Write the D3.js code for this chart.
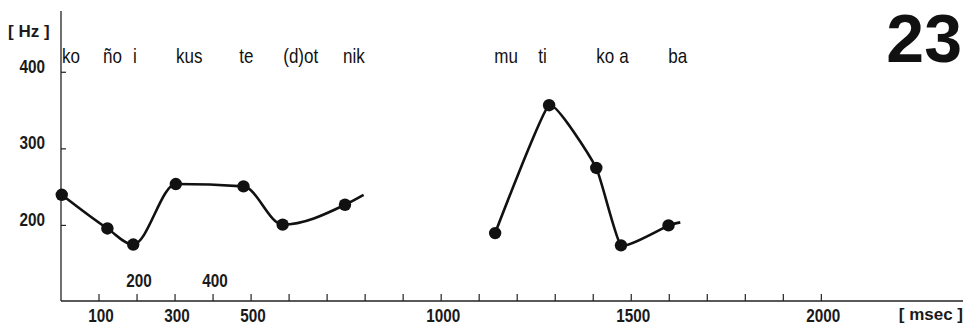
<!DOCTYPE html>
<meta charset="utf-8">
<head>
<script src="https://d3js.org/d3.v7.min.js"></script>
<style>
body { margin: 0; background: #fff; }
text { font-family: "Liberation Sans", Arial, sans-serif; fill: #1a1a1a; }
</style>
</head>
<body>
<div id="chart"></div>
<script>
// pitch contour, first phrase (ms, Hz)
var phrase1Ms = [2, 122, 190, 302, 480, 583, 747, 796];
var phrase1Hz = [240, 196, 175, 254, 251, 201, 227, 240];
var phrase1Dots = 7; // last point is only the line end

// second phrase
var phrase2Ms = [1142, 1284, 1408, 1473, 1598, 1629];
var phrase2Hz = [190, 357, 275, 174, 200, 204];
var phrase2Dots = 5;

// syllables written above the contour
var syllables = ["ko", "ño", "i", "kus", "te", "(d)ot", "nik", "mu", "ti", "ko", "a", "ba"];
var syllableMs = [0, 108, 187, 300, 466, 582, 739, 1137, 1253, 1405, 1466, 1595];

var yTicks = [200, 300, 400];
var xTicksBelow = [100, 300, 500, 1000, 1500, 2000];
var xTicksAbove = [200, 400];

var width = 967, height = 329;
var squeeze = 0.85; // narrow the type like the condensed face of the original

var svg = d3.select("#chart").append("svg")
    .attr("width", width)
    .attr("height", height);

var x = d3.scaleLinear().domain([0, 2370]).range([61, 962]);
var y = d3.scaleLinear().domain([100, 480]).range([302, 11]);

var x0 = x(0), yBase = 301;

// condensed text helper
function narrowText(sel, px, py) {
  return sel.attr("transform", function(d, i) {
    return "translate(" + px(d, i) + "," + py(d, i) + ") scale(" + squeeze + ",1)";
  });
}

// axes, drawn by hand (ticks point inward)
svg.append("line")
    .attr("x1", x0).attr("x2", x0)
    .attr("y1", 11).attr("y2", yBase)
    .attr("stroke", "#222").attr("stroke-width", 1.3);
svg.append("line")
    .attr("x1", x0).attr("x2", 963)
    .attr("y1", yBase).attr("y2", yBase)
    .attr("stroke", "#222").attr("stroke-width", 1.3);

svg.selectAll(".ytick")
    .data(yTicks)
    .enter().append("line")
    .attr("x1", x0).attr("x2", x0 + 5)
    .attr("y1", function(d) { return y(d); })
    .attr("y2", function(d) { return y(d); })
    .attr("stroke", "#222").attr("stroke-width", 1.2);

narrowText(svg.selectAll(".ylab")
    .data(yTicks)
    .enter().append("text")
    .attr("text-anchor", "end")
    .style("font-size", "18px")
    .style("font-weight", "bold")
    .text(function(d) { return d; }),
  function() { return 45; }, function(d) { return y(d) + 0.5; });

svg.selectAll(".xtick")
    .data(d3.range(100, 2001, 100))
    .enter().append("line")
    .attr("x1", function(d) { return x(d); })
    .attr("x2", function(d) { return x(d); })
    .attr("y1", yBase).attr("y2", yBase - 7)
    .attr("stroke", "#222").attr("stroke-width", 1.2);

narrowText(svg.selectAll(".xlab")
    .data(xTicksBelow)
    .enter().append("text")
    .attr("text-anchor", "middle")
    .style("font-size", "18px")
    .style("font-weight", "bold")
    .text(function(d) { return d; }),
  function(d) { return x(d) + 2; }, function() { return 322; });

narrowText(svg.selectAll(".xlab2")
    .data(xTicksAbove)
    .enter().append("text")
    .attr("text-anchor", "middle")
    .style("font-size", "18px")
    .style("font-weight", "bold")
    .text(function(d) { return d; }),
  function(d) { return x(d) + 2; }, function() { return 287; });

// unit labels
svg.append("text")
    .attr("x", 8).attr("y", 37)
    .style("font-size", "17px")
    .style("font-weight", "bold")
    .text("[ Hz ]");

svg.append("text")
    .attr("x", 963).attr("y", 320)
    .attr("text-anchor", "end")
    .style("font-size", "17px")
    .style("font-weight", "bold")
    .text("[ msec ]");

// figure number
svg.append("text")
    .attr("x", 962).attr("y", 62)
    .attr("text-anchor", "end")
    .style("font-size", "68px")
    .style("font-weight", "bold")
    .style("fill", "#111")
    .text("23");

// syllables
narrowText(svg.selectAll(".syl")
    .data(syllables)
    .enter().append("text")
    .style("font-size", "20px")
    .style("fill", "#111")
    .text(function(d) { return d; }),
  function(d, i) { return x(syllableMs[i]) + 1; }, function() { return 63; });

// contours
function contour(ms, hz, dots, curve) {
  var pts = ms.map(function(t, i) { return [t, hz[i]]; });
  var line = d3.line()
      .curve(curve)
      .x(function(d) { return x(d[0]); })
      .y(function(d) { return y(d[1]); });
  svg.append("path")
      .datum(pts)
      .attr("d", line)
      .attr("fill", "none")
      .attr("stroke", "#111")
      .attr("stroke-width", 2.6);
  svg.selectAll(null)
      .data(pts.slice(0, dots))
      .enter().append("circle")
      .attr("cx", function(d) { return x(d[0]); })
      .attr("cy", function(d) { return y(d[1]); })
      .attr("r", 6.2)
      .attr("fill", "#111");
}

contour(phrase1Ms, phrase1Hz, phrase1Dots, d3.curveMonotoneX);
contour(phrase2Ms, phrase2Hz, phrase2Dots, d3.curveCardinal.tension(0.6));
</script>
</body>
</html>
